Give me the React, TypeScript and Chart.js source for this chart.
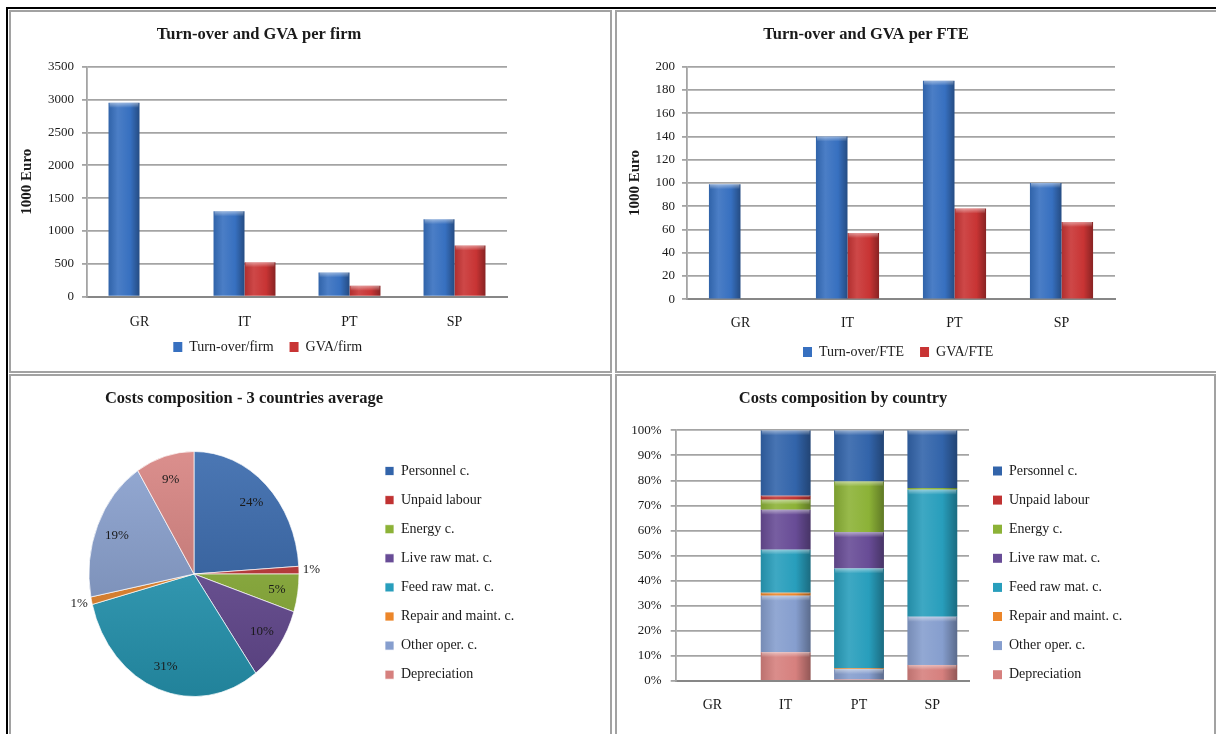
import { useEffect, useRef } from 'react';
import { Chart, registerables } from 'chart.js';

Chart.register(...registerables);

// ---- data ----
const countries = ['GR', 'IT', 'PT', 'SP'];

// Turn-over and GVA per firm (1000 Euro); no GVA figure for GR
const turnoverPerFirm = [2950, 1300, 370, 1180];
const gvaPerFirm = [null, 525, 165, 780];

// Turn-over and GVA per FTE (1000 Euro)
const turnoverPerFte = [99, 140, 188, 100];
const gvaPerFte = [null, 57, 78, 66.5];

const costItems = [
  'Personnel c.',
  'Unpaid labour',
  'Energy c.',
  'Live raw mat. c.',
  'Feed raw mat. c.',
  'Repair and maint. c.',
  'Other oper. c.',
  'Depreciation',
];

// 3 countries average cost shares (%)
const averageShares = [24, 1, 5, 10, 31, 1, 19, 9];

// cost shares by country (%), order GR, IT, PT, SP
const personnelShare = [null, 26.1, 20.4, 23.0];
const unpaidShare = [null, 1.6, 0, 0];
const energyShare = [null, 4.0, 20.3, 0.7];
const liveRawShare = [null, 15.9, 14.4, 0];
const feedRawShare = [null, 17.2, 39.8, 50.7];
const repairShare = [null, 1.2, 0.4, 0];
const otherOperShare = [null, 22.5, 4.1, 19.2];
const depreciationShare = [null, 11.5, 0.6, 6.4];

const firmAxis = { max: 3500, step: 500 };
const fteAxis = { max: 200, step: 20 };
const shareAxis = { max: 100, step: 10 };

// ---- styling ----
type RGB = [number, number, number];
const SERIF = '"Liberation Serif", "DejaVu Serif", serif';
const INK = '#1a1a1a';
const GRID = '#a4a4a4';
const AXIS = '#878787';
const BLUE: RGB = [55, 112, 192];
const RED: RGB = [200, 52, 52];
const costTones: RGB[] = [
  [50, 100, 170],
  [192, 50, 50],
  [140, 178, 55],
  [104, 76, 150],
  [40, 158, 188],
  [236, 134, 42],
  [134, 158, 206],
  [214, 128, 126],
];

const mix = (c: RGB, k: number) => {
  const t = k >= 0 ? 255 : 0;
  const a = Math.abs(k);
  return `rgb(${c.map((v) => Math.round(v + (t - v) * a)).join(',')})`;
};

Chart.defaults.font.family = SERIF;
Chart.defaults.color = INK;

// Puts the legend box at a fixed spot of the canvas after layout.
const placeLegend = (left: number, top: number) => ({
  id: 'placeLegend',
  afterLayout(chart: any) {
    const lg = chart.legend;
    if (!lg) return;
    lg.left = left;
    lg.right = left + 420;
    lg.top = top;
    lg.bottom = top + 420;
  },
});

// Cylinder-like horizontal shading and a bevel highlight on each bar.
const barShading = (tones: RGB[]) => ({
  id: 'barShading',
  beforeDatasetsDraw(chart: any) {
    const ctx = chart.ctx;
    tones.forEach((tone, di) => {
      chart.getDatasetMeta(di).data.forEach((el: any) => {
        if (!el.width || !isFinite(el.x) || !isFinite(el.y)) return;
        const g = ctx.createLinearGradient(el.x - el.width / 2, 0, el.x + el.width / 2, 0);
        g.addColorStop(0, mix(tone, -0.12));
        g.addColorStop(0.3, mix(tone, 0.1));
        g.addColorStop(0.7, mix(tone, 0));
        g.addColorStop(1, mix(tone, -0.32));
        el.options = Object.assign({}, el.options, { backgroundColor: g });
      });
    });
  },
  afterDatasetsDraw(chart: any) {
    const ctx = chart.ctx;
    ctx.save();
    tones.forEach((_tone, di) => {
      chart.getDatasetMeta(di).data.forEach((el: any) => {
        if (!el.width || !isFinite(el.y) || !isFinite(el.base)) return;
        const h = Math.abs(el.base - el.y);
        if (h < 2) return;
        const top = Math.min(el.y, el.base);
        const band = Math.min(5, h / 2);
        const g = ctx.createLinearGradient(0, top, 0, top + band);
        g.addColorStop(0, 'rgba(255,255,255,0.45)');
        g.addColorStop(1, 'rgba(255,255,255,0)');
        ctx.fillStyle = g;
        ctx.fillRect(el.x - el.width / 2 + 1, top, el.width - 2, band);
      });
    });
    ctx.restore();
  },
});

// Draws the pie as an upright ellipse with shaded slices and percentage labels.
const pieStretch = (sx: number, tones: RGB[]) => ({
  id: 'pieStretch',
  beforeDatasetsDraw(chart: any) {
    const ctx = chart.ctx;
    const arcs = chart.getDatasetMeta(0).data;
    if (!arcs.length) return;
    arcs.forEach((a: any, i: number) => {
      const g = ctx.createLinearGradient(0, a.y - a.outerRadius, 0, a.y + a.outerRadius);
      g.addColorStop(0, mix(tones[i], 0.12));
      g.addColorStop(1, mix(tones[i], -0.18));
      a.options = Object.assign({}, a.options, { backgroundColor: g });
    });
    const c = arcs[0];
    ctx.save();
    ctx.translate(c.x, c.y);
    ctx.scale(sx, 1);
    ctx.translate(-c.x, -c.y);
  },
  afterDatasetsDraw(chart: any) {
    const ctx = chart.ctx;
    const arcs = chart.getDatasetMeta(0).data;
    if (!arcs.length) return;
    ctx.restore();
    const values = chart.data.datasets[0].data as number[];
    ctx.save();
    ctx.font = `13px ${SERIF}`;
    ctx.fillStyle = INK;
    ctx.textAlign = 'center';
    ctx.textBaseline = 'middle';
    arcs.forEach((a: any, i: number) => {
      const mid = (a.startAngle + a.endAngle) / 2;
      const r = a.outerRadius * (values[i] <= 1 ? 1.12 : 0.8);
      ctx.fillText(`${values[i]}%`, a.x + Math.cos(mid) * r * sx, a.y + Math.sin(mid) * r);
    });
    ctx.restore();
  },
});

const titleOpts = (text: string, top: number, bottom: number) => ({
  display: true,
  text,
  color: INK,
  font: { size: 16.5, weight: 'bold' as const, family: SERIF },
  padding: { top, bottom },
});

const sideLegend = (reverse: boolean) => ({
  position: 'right' as const,
  align: 'start' as const,
  reverse,
  maxWidth: 100,
  labels: {
    boxWidth: 9,
    boxHeight: 9,
    padding: 15.1,
    textAlign: 'left' as const,
    color: INK,
    font: { size: 14, family: SERIF },
  },
});

interface GroupedSpec {
  title: string;
  labels: [string, string];
  values: [(number | null)[], (number | null)[]];
  axis: { max: number; step: number };
  padRight: number;
  yWidth: number;
  yPad: number;
  titlePad: number;
  xHeight: number;
  xPad: number;
  legendLeft: number;
  legendTop: number;
}

const groupedBars = (s: GroupedSpec) => ({
  type: 'bar',
  data: {
    labels: countries,
    datasets: [BLUE, RED].map((tone, i) => ({
      label: s.labels[i],
      data: s.values[i],
      backgroundColor: mix(tone, 0),
      borderWidth: 0,
      categoryPercentage: 0.59,
      barPercentage: 1,
    })),
  },
  options: {
    responsive: false,
    animation: false,
    devicePixelRatio: 1,
    layout: { padding: { left: 0, right: s.padRight, top: 0, bottom: 0 } },
    plugins: {
      title: titleOpts(s.title, 13.1, 21.8),
      legend: {
        position: 'bottom',
        align: 'start',
        maxHeight: 20,
        labels: {
          boxWidth: 9,
          boxHeight: 10,
          padding: 16,
          textAlign: 'left',
          color: INK,
          font: { size: 14, family: SERIF },
        },
      },
      tooltip: { enabled: false },
    },
    scales: {
      x: {
        grid: { display: false, drawTicks: false },
        border: { color: AXIS, width: 2 },
        ticks: { padding: s.xPad, color: INK, font: { size: 14 } },
        afterFit: (sc: any) => {
          sc.height = s.xHeight;
        },
      },
      y: {
        min: 0,
        max: s.axis.max,
        ticks: {
          stepSize: s.axis.step,
          padding: s.yPad,
          color: INK,
          font: { size: 13 },
          callback: (v: any) => String(v),
        },
        grid: { color: GRID, lineWidth: 1.8, tickLength: 5 },
        border: { color: GRID, width: 1.8 },
        title: {
          display: true,
          text: '1000 Euro',
          color: INK,
          font: { size: 15, weight: 'bold' },
          padding: { top: s.titlePad, bottom: 0 },
        },
        afterFit: (sc: any) => {
          sc.width = s.yWidth;
        },
      },
    },
  },
  plugins: [placeLegend(s.legendLeft, s.legendTop), barShading([BLUE, RED])],
});

const perFirmConfig = () =>
  groupedBars({
    title: 'Turn-over and GVA per firm',
    labels: ['Turn-over/firm', 'GVA/firm'],
    values: [turnoverPerFirm, gvaPerFirm],
    axis: firmAxis,
    padRight: 18,
    yWidth: 76,
    yPad: 8,
    titlePad: 7,
    xHeight: 53.3,
    xPad: 17,
    legendLeft: 146.3,
    legendTop: 312,
  });

const perFteConfig = () =>
  groupedBars({
    title: 'Turn-over and GVA per FTE',
    labels: ['Turn-over/FTE', 'GVA/FTE'],
    values: [turnoverPerFte, gvaPerFte],
    axis: fteAxis,
    padRight: 16,
    yWidth: 70,
    yPad: 7,
    titlePad: 9,
    xHeight: 50.7,
    xPad: 15.3,
    legendLeft: 170,
    legendTop: 317,
  });

const pieConfig = () => ({
  type: 'pie',
  data: {
    labels: costItems,
    datasets: [
      {
        data: averageShares,
        backgroundColor: costTones.map((t) => mix(t, 0)),
        borderColor: 'rgba(255,255,255,0.75)',
        borderWidth: 1,
      },
    ],
  },
  options: {
    responsive: false,
    animation: false,
    devicePixelRatio: 1,
    layout: { padding: { left: 60, right: 108, top: 0, bottom: 35 } },
    plugins: {
      title: titleOpts('Costs composition - 3 countries average', 12.8, 42.4),
      legend: sideLegend(false),
      tooltip: { enabled: false },
    },
  },
  plugins: [placeLegend(358.9, 72.9), pieStretch(0.857, costTones)],
});

// bottom-to-top stacking order; the legend lists them top-down
const stackSeries: [number, (number | null)[]][] = [
  [7, depreciationShare],
  [6, otherOperShare],
  [5, repairShare],
  [4, feedRawShare],
  [3, liveRawShare],
  [2, energyShare],
  [1, unpaidShare],
  [0, personnelShare],
];

const stackedConfig = () => ({
  type: 'bar',
  data: {
    labels: countries,
    datasets: stackSeries.map(([item, values]) => ({
      label: costItems[item],
      data: values,
      backgroundColor: mix(costTones[item], 0),
      borderWidth: 0,
      categoryPercentage: 0.68,
      barPercentage: 1,
    })),
  },
  options: {
    responsive: false,
    animation: false,
    devicePixelRatio: 1,
    layout: { padding: { left: 0, right: 62, top: 0, bottom: 0 } },
    plugins: {
      title: titleOpts('Costs composition by country', 13.1, 21.4),
      legend: sideLegend(true),
      tooltip: { enabled: false },
    },
    scales: {
      x: {
        stacked: true,
        grid: { display: false, drawTicks: false },
        border: { color: AXIS, width: 2 },
        ticks: { padding: 15.9, color: INK, font: { size: 14 } },
        afterFit: (sc: any) => {
          sc.height = 51;
        },
      },
      y: {
        stacked: true,
        min: 0,
        max: shareAxis.max,
        ticks: {
          stepSize: shareAxis.step,
          padding: 9,
          color: INK,
          font: { size: 13 },
          callback: (v: any) => `${v}%`,
        },
        grid: { color: GRID, lineWidth: 1.8, tickLength: 5 },
        border: { color: GRID, width: 1.8 },
        afterFit: (sc: any) => {
          sc.width = 58.7;
        },
      },
    },
  },
  plugins: [placeLegend(360.9, 72.9), barShading(stackSeries.map(([item]) => costTones[item]))],
});

function ChartCanvas(props: { x: number; y: number; w: number; h: number; make: () => any }) {
  const ref = useRef<HTMLCanvasElement>(null);
  useEffect(() => {
    const chart = new Chart(ref.current as HTMLCanvasElement, props.make());
    return () => chart.destroy();
  }, []);
  return (
    <canvas
      ref={ref}
      width={props.w}
      height={props.h}
      style={{ position: 'absolute', left: props.x, top: props.y, width: props.w, height: props.h }}
    />
  );
}

const frame = (left: number, top: number, width: number, height: number) => (
  <div
    style={{
      position: 'absolute',
      left,
      top,
      width,
      height,
      boxSizing: 'border-box',
      border: '2px solid #a2a2a2',
    }}
  />
);

export default function App() {
  return (
    <div
      style={{
        position: 'absolute',
        left: 0,
        top: 0,
        width: 1216,
        height: 734,
        overflow: 'hidden',
        background: '#ffffff',
      }}
    >
      <div
        style={{
          position: 'absolute',
          left: 6,
          top: 7,
          width: 1300,
          height: 800,
          borderTop: '2px solid #000',
          borderLeft: '2px solid #000',
        }}
      />
      {frame(9, 10, 603, 363)}
      {frame(615, 10, 700, 363)}
      {frame(9, 374, 603, 420)}
      {frame(615, 374, 601, 420)}
      <ChartCanvas x={11} y={12} w={514} h={358} make={perFirmConfig} />
      <ChartCanvas x={617} y={12} w={514} h={358} make={perFteConfig} />
      <ChartCanvas x={11} y={376} w={514} h={356} make={pieConfig} />
      <ChartCanvas x={617} y={376} w={514} h={356} make={stackedConfig} />
    </div>
  );
}
